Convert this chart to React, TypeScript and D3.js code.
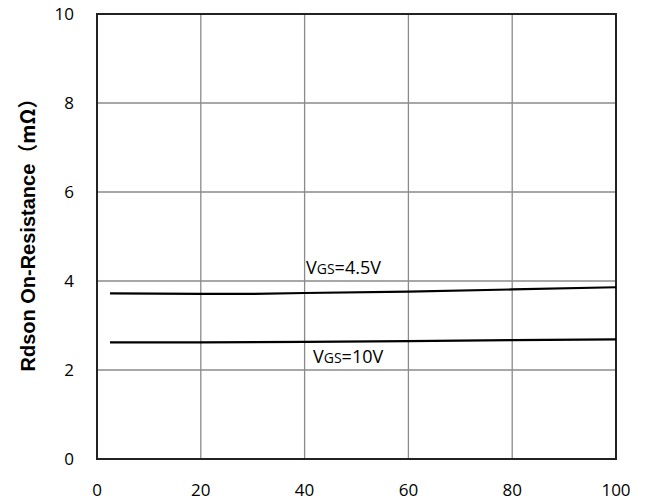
import React from "react";
import * as d3 from "d3";

const xTicks = [0, 20, 40, 60, 80, 100];
const yTicks = [0, 2, 4, 6, 8, 10];
const vgs45X = [2.5, 20, 30, 40, 60, 80, 100];
const vgs45Y = [3.72, 3.71, 3.71, 3.73, 3.76, 3.81, 3.86];
const vgs10X = [2.5, 20, 40, 60, 80, 100];
const vgs10Y = [2.62, 2.62, 2.63, 2.65, 2.67, 2.69];
const yTitleMain = "Rdson On-Resistance";
const yTitleUnit = "（mΩ）";

const W = 653, H = 501;
const L = 97, R = 616, T = 14, B = 459;

export default function App() {
  const x = d3.scaleLinear().domain([0, 100]).range([L, R]);
  const y = d3.scaleLinear().domain([0, 10]).range([B, T]);
  const line = d3.line<[number, number]>().x(d => x(d[0])).y(d => y(d[1]));
  const s45 = vgs45X.map((v, i) => [v, vgs45Y[i]] as [number, number]);
  const s10 = vgs10X.map((v, i) => [v, vgs10Y[i]] as [number, number]);
  const tickFont = "Open Sans, Liberation Sans, sans-serif";
  return (
    <svg width={W} height={H} style={{ position: "absolute", left: 0, top: 0, background: "#fff" }}>
      {xTicks.slice(1, -1).map(t => (
        <line key={"gx" + t} x1={x(t)} x2={x(t)} y1={T} y2={B} stroke="#8a8a8a" strokeWidth={1.3} />
      ))}
      {yTicks.slice(1, -1).map(t => (
        <line key={"gy" + t} x1={L} x2={R} y1={y(t)} y2={y(t)} stroke="#8a8a8a" strokeWidth={1.3} />
      ))}
      <rect x={L} y={T} width={R - L} height={B - T} fill="none" stroke="#222" strokeWidth={2} />
      <path d={line(s45) || ""} fill="none" stroke="#000" strokeWidth={2.2} />
      <path d={line(s10) || ""} fill="none" stroke="#000" strokeWidth={2.2} />
      {yTicks.map(t => (
        <text key={"ty" + t} x={74} y={y(t)} dy="0.35em" textAnchor="end" fontSize={17} fontFamily={tickFont} fill="#000">{t}</text>
      ))}
      {xTicks.map(t => (
        <text key={"tx" + t} x={x(t)} y={490} dy="0.35em" textAnchor="middle" fontSize={17} fontFamily={tickFont} fill="#000">{t}</text>
      ))}
      <text x={306} y={274} fontSize={18} fontFamily={tickFont} fill="#000">
        V<tspan fontSize={14}>GS</tspan>=4.5V
      </text>
      <text x={313} y={363} fontSize={18} fontFamily={tickFont} fill="#000">
        V<tspan fontSize={14}>GS</tspan>=10V
      </text>
      <text transform={`translate(35,230) rotate(-90)`} textAnchor="middle" fontSize={20} fontWeight="bold" fontFamily="Liberation Sans, Arial, sans-serif" fill="#000">
        {yTitleMain}
        <tspan fontFamily="Noto Sans CJK SC, sans-serif">{yTitleUnit}</tspan>
      </text>
    </svg>
  );
}
